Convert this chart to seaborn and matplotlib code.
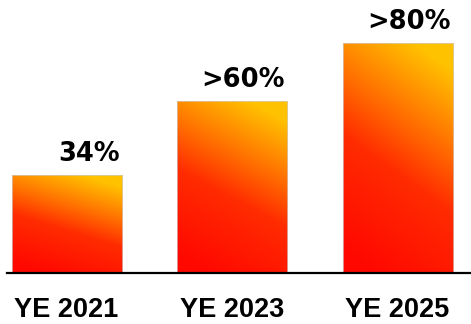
import numpy as np
import matplotlib
matplotlib.use("Agg")
import matplotlib.pyplot as plt
from matplotlib.colors import LinearSegmentedColormap
import seaborn as sns

# Share of target reached by year end
periods = ["YE 2021", "YE 2023", "YE 2025"]
values = [34, 60, 80]
value_labels = ["34%", ">60%", ">80%"]

sns.set_theme(style="white")
plt.rcParams["font.family"] = ["Liberation Sans", "DejaVu Sans"]

W, H, DPI = 471, 324, 100
fig = plt.figure(figsize=(W / DPI, H / DPI), dpi=DPI)
ax = fig.add_axes([7 / W, 51 / H, 1 - 7 / W, 273 / H])

sns.barplot(x=periods, y=values, ax=ax, width=0.665, color="#ff3000",
            edgecolor="#d0c8c8", linewidth=0.5, saturation=1)

# warm fire-like gradient: red at lower-left, amber at upper-right
fire = LinearSegmentedColormap.from_list(
    "fire", [(0.0, "#ff0800"), (0.45, "#ff2c00"), (0.72, "#ff7800"),
             (0.9, "#ffa800"), (1.0, "#ffc200")])
ny, nx = 120, 60
yy, xx = np.mgrid[0:1:ny * 1j, 0:1:nx * 1j]
grad = np.clip(0.88 * yy + 0.3 * xx - 0.08, 0, 1)

for patch in ax.patches:
    x0, y0 = patch.get_x(), patch.get_y()
    w, h = patch.get_width(), patch.get_height()
    patch.set_facecolor("none")
    im = ax.imshow(grad, cmap=fire, vmin=0, vmax=1, origin="lower",
                   extent=[x0, x0 + w, y0, y0 + h], aspect="auto",
                   interpolation="bilinear", zorder=patch.get_zorder() - 0.1)
    im.set_clip_path(patch)

# value labels sit right-aligned over each bar
for patch, lab in zip(ax.patches, value_labels):
    ax.annotate(lab, xy=(patch.get_x() + patch.get_width(), patch.get_height()),
                xytext=(-1.5, 10), textcoords="offset points",
                ha="right", va="baseline", fontsize=18.5, fontweight="bold",
                family=["DejaVu Sans"], color="#000000")

x_per_px = 1 / 165.5
ax.set_xlim(-0.36, -0.36 + (W - 7) * x_per_px)
ax.set_ylim(0, 273 / 2.875)

ax.set_xlabel("")
ax.set_ylabel("")
ax.set_yticks([])
ax.tick_params(axis="x", length=0, pad=17, labelsize=19.5, labelcolor="#000000")
for t in ax.get_xticklabels():
    t.set_fontweight("bold")

for side in ["top", "right", "left"]:
    ax.spines[side].set_visible(False)
ax.spines["bottom"].set_color("#000000")
ax.spines["bottom"].set_linewidth(1.6)
ax.patch.set_alpha(0)

fig.savefig("out.png", dpi=DPI)
